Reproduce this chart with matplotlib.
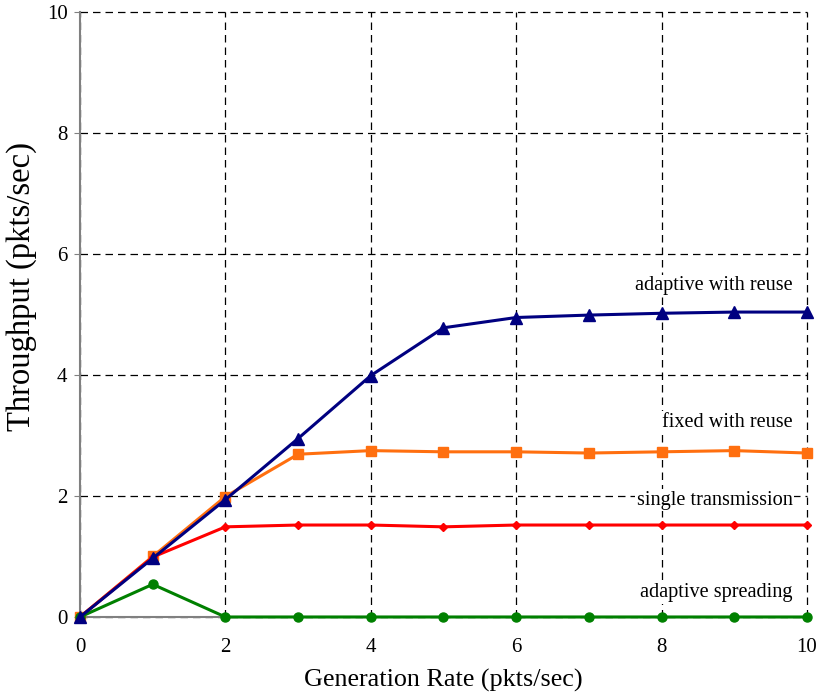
import matplotlib.pyplot as plt

rate = [0, 1, 2, 3, 4, 5, 6, 7, 8, 9, 10]
adaptiveReuse = [0, 0.97, 1.94, 2.95, 3.99, 4.78, 4.95, 4.99, 5.02, 5.04, 5.04]
fixedReuse = [0, 1.0, 1.99, 2.69, 2.75, 2.73, 2.73, 2.71, 2.73, 2.75, 2.71]
singleTx = [0, 0.99, 1.49, 1.52, 1.52, 1.49, 1.52, 1.52, 1.52, 1.52, 1.52]
adaptiveSpread = [0, 0.54, 0, 0, 0, 0, 0, 0, 0, 0, 0]

labels = ["adaptive with reuse", "fixed with reuse", "single transmission", "adaptive spreading"]
labelY = [5.48, 3.22, 1.93, 0.40]

plt.rcParams["font.family"] = "Liberation Serif"

fig = plt.figure(figsize=(8.19, 6.92), dpi=100)
ax = fig.add_axes([0.0977, 0.1084, 0.8876, 0.8743])

lineSettings = dict(linewidth=2.2, clip_on=False, zorder=3)
ax.plot(rate, fixedReuse, color="#ff6f0f", marker="s", markersize=7, **lineSettings)
ax.plot(rate, singleTx, color="#ff0000", marker="D", markersize=4.5, **lineSettings)
ax.plot(rate, adaptiveSpread, color="#008000", marker="o", markersize=6.5, **lineSettings)
ax.plot(rate, adaptiveReuse, color="#000080", marker="^", markersize=8, **lineSettings)

for text, y in zip(labels, labelY):
    ax.text(9.8, y, text, ha="right", va="center", fontsize=14.6, zorder=2,
            bbox=dict(facecolor="white", edgecolor="none", pad=1))

ax.set_xlim(0, 10)
ax.set_ylim(0, 10)
ax.set_xticks([0, 2, 4, 6, 8, 10])
ax.set_yticks([0, 2, 4, 6, 8, 10])
ax.tick_params(axis="x", length=0, labelsize=15, pad=15)
ax.tick_params(axis="y", length=4, color="#808080", labelsize=15, pad=5)
ax.grid(True, color="black", linestyle=(0, (6, 4)), linewidth=0.9)
for line in ax.get_xgridlines() + ax.get_ygridlines():
    line.set_clip_on(False)
ax.set_axisbelow(True)
for side in ["top", "right"]:
    ax.spines[side].set_visible(False)
for side in ["left", "bottom"]:
    ax.spines[side].set_color("#808080")
    ax.spines[side].set_linewidth(1.5)

ax.set_xlabel("Generation Rate (pkts/sec)", fontsize=18.8, labelpad=9)
ax.set_ylabel("Throughput (pkts/sec)", fontsize=23.5)
ax.yaxis.set_label_coords(-0.059, 0.547)

fig.savefig("out.png", dpi=100)
